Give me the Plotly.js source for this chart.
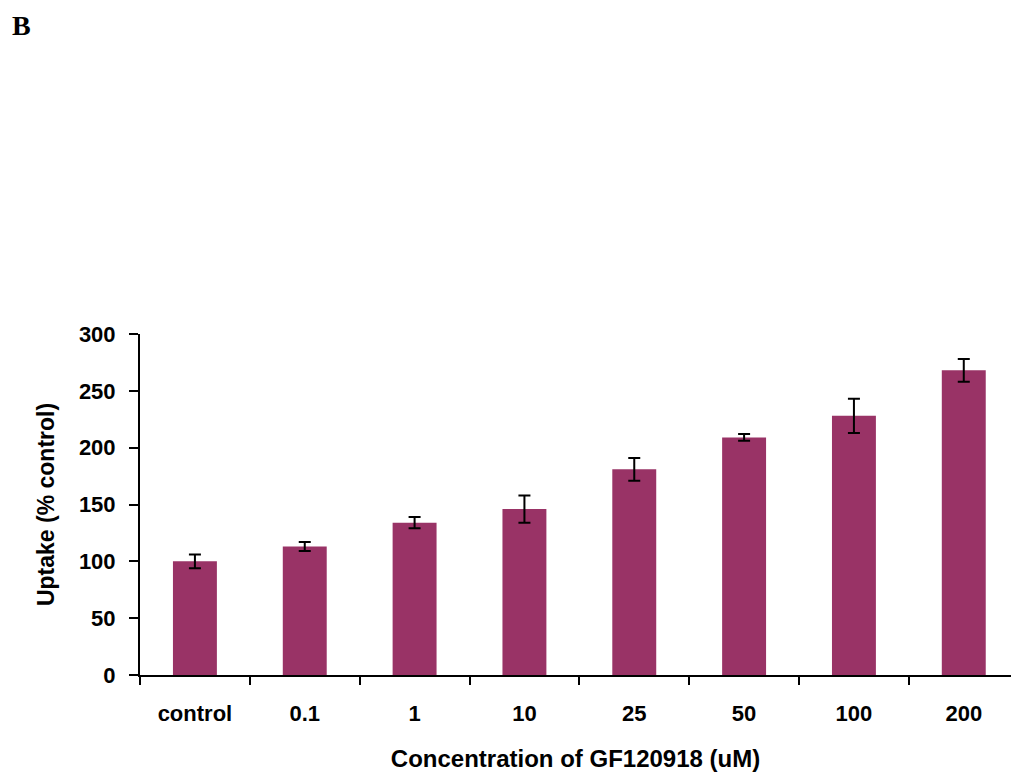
<!DOCTYPE html>
<html>
<head>
<meta charset="utf-8">
<script src="https://cdn.plot.ly/plotly-3.0.1.min.js"></script>
<style>
html,body{margin:0;padding:0;background:#fff;}
#chart{width:1011px;height:780px;}
</style>
</head>
<body>
<div id="chart"></div>
<script>
const categories = ["control", "0.1", "1", "10", "25", "50", "100", "200"];
const uptake = [100, 113, 134, 146, 181, 209, 228, 268];
const errors = [6, 4, 5, 12, 10, 3, 15, 10];
const yTicks = [0, 50, 100, 150, 200, 250, 300];

const trace = {
  type: "bar",
  x: categories,
  y: uptake,
  width: 0.4,
  marker: {color: "#993366", line: {width: 0}},
  error_y: {type: "data", array: errors, visible: true, color: "#000000", thickness: 2, width: 6},
  hoverinfo: "x+y"
};

const layout = {
  width: 1011,
  height: 780,
  margin: {l: 140, r: 0, t: 334, b: 105},
  paper_bgcolor: "#ffffff",
  plot_bgcolor: "#ffffff",
  showlegend: false,
  font: {family: "Liberation Sans, Arial, sans-serif", color: "#000000"},
  xaxis: {
    type: "category",
    range: [-0.5, 7.43],
    showline: true,
    linecolor: "#000000",
    linewidth: 2,
    ticks: "outside",
    tickson: "boundaries",
    ticklen: 8,
    tickwidth: 2,
    tickcolor: "#000000",
    showgrid: false,
    zeroline: false,
    ticklabelstandoff: 18,
    tickfont: {family: "Liberation Sans, Arial, sans-serif", size: 22, color: "#000000", weight: "bold"},
    title: {text: "Concentration of GF120918 (uM)", font: {family: "Liberation Sans, Arial, sans-serif", size: 24, color: "#000000", weight: "bold"}, standoff: 25}
  },
  yaxis: {
    range: [0, 300],
    tickvals: yTicks,
    showline: true,
    linecolor: "#000000",
    linewidth: 2,
    ticks: "outside",
    ticklen: 9,
    tickwidth: 2,
    tickcolor: "#000000",
    showgrid: false,
    zeroline: false,
    ticklabelstandoff: 9,
    tickfont: {family: "Liberation Sans, Arial, sans-serif", size: 22, color: "#000000", weight: "bold"},
    title: {text: "Uptake (% control)", font: {family: "Liberation Sans, Arial, sans-serif", size: 23, color: "#000000", weight: "bold"}, standoff: 18}
  },
  annotations: [{
    text: "B", xref: "paper", yref: "paper", x: 0, y: 1.0, xanchor: "left", yanchor: "top",
    xshift: -130, yshift: 326, showarrow: false,
    font: {family: "Liberation Serif, Times New Roman, serif", size: 28, color: "#000000", weight: "bold"}
  }]
};

Plotly.newPlot("chart", [trace], layout, {displayModeBar: false, staticPlot: true});
</script>
</body>
</html>
